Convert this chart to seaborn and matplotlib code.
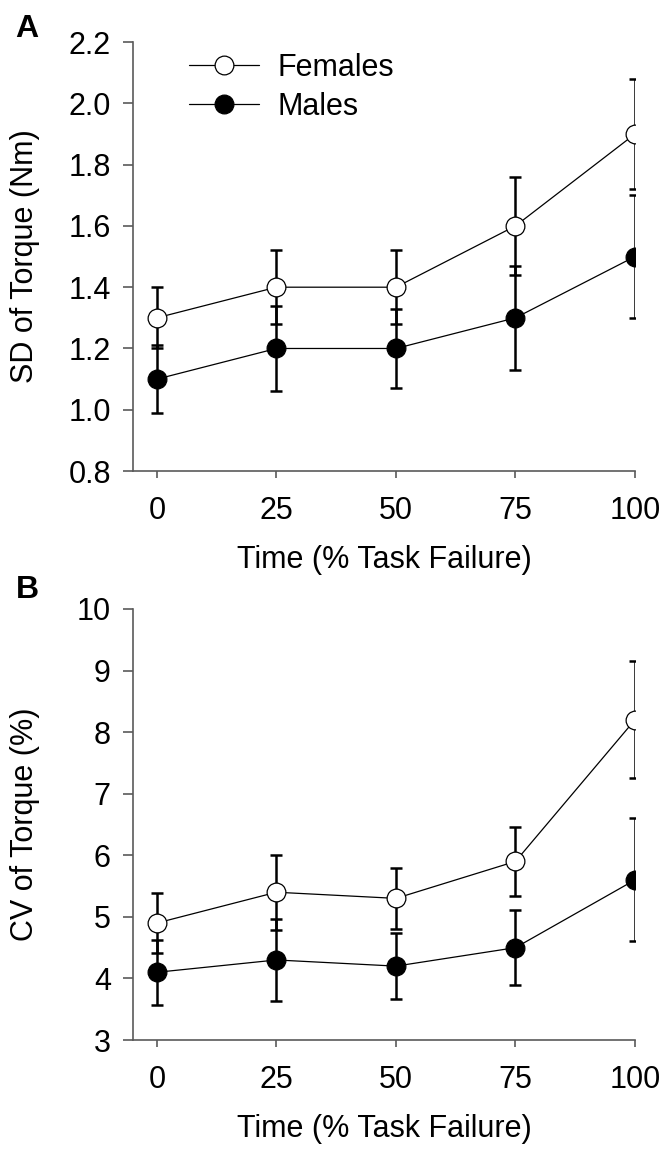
import numpy as np
import pandas as pd
import matplotlib
matplotlib.use("Agg")
import matplotlib.pyplot as plt
import seaborn as sns

# Data
time_pct = [0, 25, 50, 75, 100]

sd_females = [1.30, 1.40, 1.40, 1.60, 1.90]
sd_females_err = [0.10, 0.12, 0.12, 0.16, 0.18]
sd_males = [1.10, 1.20, 1.20, 1.30, 1.50]
sd_males_err = [0.11, 0.14, 0.13, 0.17, 0.20]

cv_females = [4.9, 5.4, 5.3, 5.9, 8.2]
cv_females_err = [0.49, 0.61, 0.49, 0.56, 0.95]
cv_males = [4.1, 4.3, 4.2, 4.5, 5.6]
cv_males_err = [0.53, 0.66, 0.53, 0.61, 1.00]

x_ticks = [0, 25, 50, 75, 100]
sd_ticks = [0.8, 1.0, 1.2, 1.4, 1.6, 1.8, 2.0, 2.2]
cv_ticks = [3, 4, 5, 6, 7, 8, 9, 10]

sns.set_style("ticks")
plt.rcParams["font.family"] = ["Liberation Sans", "DejaVu Sans"]
plt.rcParams["text.color"] = "black"
plt.rcParams["axes.labelcolor"] = "black"
FS = 22
SPINE = "#5a5a5a"

fig = plt.figure(figsize=(6.62, 11.52), dpi=100)
ax_a = fig.add_axes([0.2009, 0.5911, 0.7583, 0.3724])
ax_b = fig.add_axes([0.2009, 0.0972, 0.7583, 0.3742])


def draw_panel(ax, fem, fem_err, mal, mal_err, ticks, ylabel, fmt):
    df = pd.DataFrame({"time": time_pct * 2,
                       "value": fem + mal,
                       "group": ["Females"] * 5 + ["Males"] * 5})
    # error bars first, behind the markers
    ax.errorbar(time_pct, fem, yerr=fem_err, fmt="none", ecolor="black",
                elinewidth=1.8, capsize=4.3, capthick=1.8, zorder=2)
    ax.errorbar(time_pct, mal, yerr=mal_err, fmt="none", ecolor="black",
                elinewidth=1.8, capsize=4.3, capthick=1.8, zorder=2)
    sns.lineplot(data=df[df.group == "Females"], x="time", y="value", ax=ax,
                 color="black", lw=0.9, marker="o", markersize=13.5,
                 markerfacecolor="white", markeredgecolor="black",
                 markeredgewidth=0.9, label="Females", zorder=4)
    sns.lineplot(data=df[df.group == "Males"], x="time", y="value", ax=ax,
                 color="black", lw=0.9, marker="o", markersize=13.5,
                 markerfacecolor="black", markeredgecolor="black",
                 markeredgewidth=0.9, label="Males", zorder=4)

    ax.set_xlim(-5, 100)
    ax.set_ylim(ticks[0], ticks[-1])
    ax.set_xticks(x_ticks)
    ax.set_yticks(ticks)
    ax.set_yticklabels([fmt.format(t) for t in ticks])
    for s in ["top", "right"]:
        ax.spines[s].set_visible(False)
    for s in ["left", "bottom"]:
        ax.spines[s].set_color(SPINE)
        ax.spines[s].set_linewidth(1.2)
    ax.tick_params(axis="both", colors=SPINE, labelcolor="black",
                   labelsize=FS, width=1.2, direction="out")
    ax.tick_params(axis="x", pad=13, length=5)
    ax.tick_params(axis="y", pad=9, length=7)
    ax.set_xlabel("Time (% Task Failure)", fontsize=FS, labelpad=14, color="black")
    ax.set_ylabel(ylabel, fontsize=FS, color="black")
    ax.yaxis.set_label_coords(-0.185, 0.5)
    ax.get_legend().remove()


draw_panel(ax_a, sd_females, sd_females_err, sd_males, sd_males_err,
           sd_ticks, "SD of Torque (Nm)", "{:.1f}")
draw_panel(ax_b, cv_females, cv_females_err, cv_males, cv_males_err,
           cv_ticks, "CV of Torque (%)", "{:d}")

handles, labels = ax_a.get_legend_handles_labels()
leg = ax_a.legend(handles, labels, loc="upper left", bbox_to_anchor=(0.112, 0.975),
                  frameon=False, fontsize=FS, handlelength=2.3, handletextpad=0.6,
                  labelspacing=0.3, borderpad=0, borderaxespad=0)
for t in leg.get_texts():
    t.set_color("black")

fig.text(0.041, 0.975, "A", fontsize=FS + 1, fontweight="bold", color="black",
         ha="center", va="center")
fig.text(0.041, 0.488, "B", fontsize=FS + 1, fontweight="bold", color="black",
         ha="center", va="center")

fig.savefig("out.png", dpi=100)
